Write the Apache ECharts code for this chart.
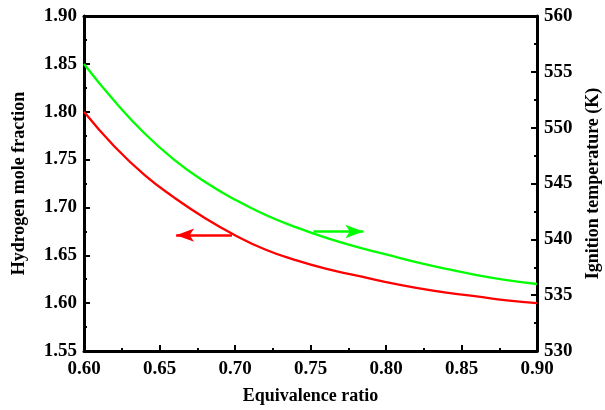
<!DOCTYPE html>
<html>
<head>
<meta charset="utf-8">
<script src="https://cdn.jsdelivr.net/npm/echarts@6/dist/echarts.min.js"></script>
<style>
html,body{margin:0;padding:0;background:#fff;}
#c{width:605px;height:410px;}
</style>
</head>
<body>
<div id="c"></div>
<script>
// Data
var phi = [0.60,0.62,0.64,0.66,0.68,0.70,0.72,0.74,0.76,0.78,0.80,0.82,0.84,0.86,0.88,0.90];
var hydrogen = [1.800,1.764,1.734,1.710,1.689,1.671,1.656,1.645,1.636,1.629,1.622,1.616,1.611,1.607,1.603,1.600];
var ignitionT = [555.7,552.4,549.5,547.1,545.15,543.55,542.2,541.1,540.15,539.35,538.65,537.95,537.35,536.8,536.35,536.0];
// arrows: [x start, x end, y]
var redArrow = [0.698, 0.661, 1.671];
var greenArrow = [0.752, 0.785, 540.7];

var font = '"Liberation Serif", "Times New Roman", serif';
function pairs(xs, ys){ return xs.map(function(x,i){ return [x, ys[i]]; }); }

var chart = echarts.init(document.getElementById('c'), null, {renderer:'canvas'});
var axisLine = {show:true, lineStyle:{color:'#000', width:3}};
var labelStyle = {color:'#000', fontFamily:font, fontWeight:'bold', fontSize:19};
var nameStyle = {color:'#000', fontFamily:font, fontWeight:'bold', fontSize:18};
chart.setOption({
  animation:false,
  backgroundColor:'#fff',
  grid:{left:84, right:68, top:16, bottom:59, containLabel:false, outerBoundsMode:'none'},
  xAxis:[{
    type:'value', min:0.6, max:0.9, interval:0.05,
    name:'Equivalence ratio', nameLocation:'middle', nameGap:36,
    nameTextStyle:nameStyle,
    axisLine:axisLine,
    axisTick:{show:true, inside:true, length:6, lineStyle:{color:'#000', width:2}},
    minorTick:{show:true, splitNumber:2, length:3, lineStyle:{color:'#000', width:2}},
    axisLabel:Object.assign({margin:9, formatter:function(v){return v.toFixed(2);}}, labelStyle),
    splitLine:{show:false}
  },{
    type:'value', position:'top', min:0.6, max:0.9,
    axisLine:axisLine, axisTick:{show:false}, axisLabel:{show:false}, splitLine:{show:false}
  }],
  yAxis:[{
    type:'value', min:1.55, max:1.90, interval:0.05, position:'left',
    name:'Hydrogen mole fraction', nameLocation:'middle', nameGap:56, nameRotate:90,
    nameTextStyle:nameStyle,
    axisLine:axisLine,
    axisTick:{show:true, inside:true, length:6, lineStyle:{color:'#000', width:2}},
    minorTick:{show:true, splitNumber:2, length:3, lineStyle:{color:'#000', width:2}},
    axisLabel:Object.assign({margin:7, formatter:function(v){return v.toFixed(2);}}, labelStyle),
    splitLine:{show:false}
  },{
    type:'value', min:530, max:560, interval:5, position:'right',
    name:'Ignition temperature (K)', nameLocation:'middle', nameGap:47, nameRotate:90,
    nameTextStyle:nameStyle,
    axisLine:axisLine,
    axisTick:{show:true, inside:true, length:6, lineStyle:{color:'#000', width:2}},
    minorTick:{show:true, splitNumber:2, length:3, lineStyle:{color:'#000', width:2}},
    axisLabel:Object.assign({margin:7}, labelStyle),
    splitLine:{show:false}
  }],
  series:[{
    type:'line', xAxisIndex:0, yAxisIndex:0, data:pairs(phi, hydrogen),
    smooth:true, showSymbol:false, lineStyle:{color:'#ff0000', width:2.3}, itemStyle:{color:'#ff0000'},
    markLine:{silent:true, symbol:['none','arrow'], symbolSize:[10,18], label:{show:false},
      lineStyle:{color:'#ff0000', width:2.5, type:'solid'},
      data:[[{coord:[redArrow[0], redArrow[2]]},{coord:[redArrow[1], redArrow[2]]}]]}
  },{
    type:'line', xAxisIndex:0, yAxisIndex:1, data:pairs(phi, ignitionT),
    smooth:true, showSymbol:false, lineStyle:{color:'#00ff00', width:2.3}, itemStyle:{color:'#00ff00'},
    markLine:{silent:true, symbol:['none','arrow'], symbolSize:[10,18], label:{show:false},
      lineStyle:{color:'#00ff00', width:2.5, type:'solid'},
      data:[[{coord:[greenArrow[0], greenArrow[2]]},{coord:[greenArrow[1], greenArrow[2]]}]]}
  }]
});
</script>
</body>
</html>
